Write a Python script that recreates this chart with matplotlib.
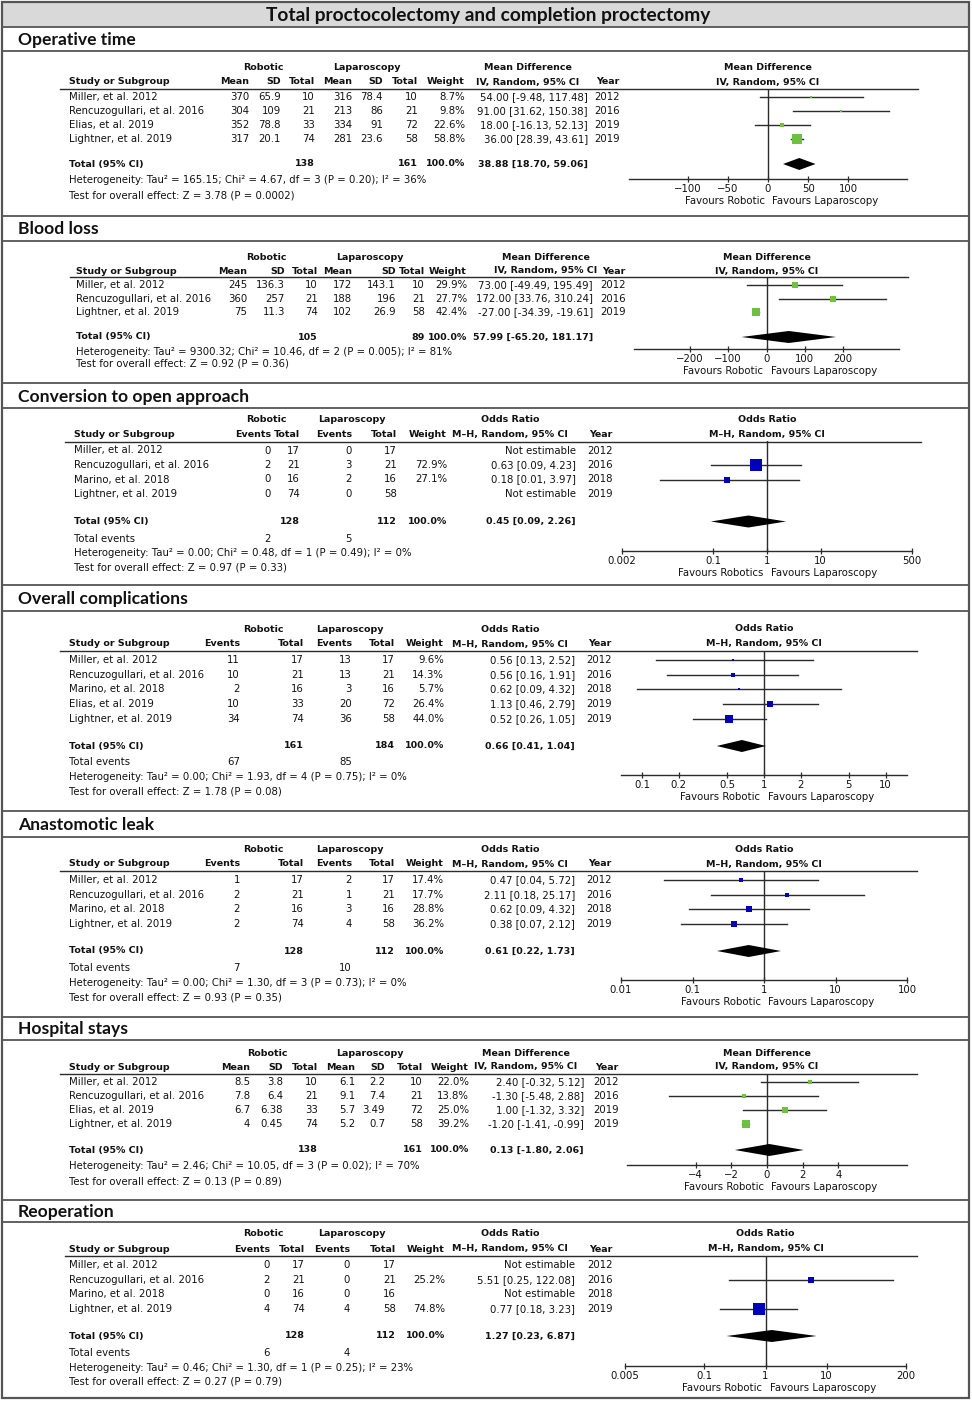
import matplotlib
matplotlib.use("Agg")
import matplotlib.pyplot as plt
from matplotlib.patches import Rectangle
from matplotlib.ticker import FixedLocator, FixedFormatter, NullLocator

# ---------------------------------------------------------------- data
TITLE = "Total proctocolectomy and completion proctectomy"

# Operative time (mean difference)
op_title = "Operative time"
op_studies = ["Miller, et al. 2012", "Rencuzogullari, et al. 2016", "Elias, et al. 2019", "Lightner, et al. 2019"]
op_rob_mean = [370, 304, 352, 317]
op_rob_sd = [65.9, 109, 78.8, 20.1]
op_rob_n = [10, 21, 33, 74]
op_lap_mean = [316, 213, 334, 281]
op_lap_sd = [78.4, 86, 91, 23.6]
op_lap_n = [10, 21, 72, 58]
op_weight = [8.7, 9.8, 22.6, 58.8]
op_est = [54.00, 91.00, 18.00, 36.00]
op_lo = [-9.48, 31.62, -16.13, 28.39]
op_hi = [117.48, 150.38, 52.13, 43.61]
op_year = [2012, 2016, 2019, 2019]
op_tot_n = [138, 161]
op_tot_est = [38.88, 18.70, 59.06]
op_het = "Heterogeneity: Tau² = 165.15; Chi² = 4.67, df = 3 (P = 0.20); I² = 36%"
op_test = "Test for overall effect: Z = 3.78 (P = 0.0002)"
op_ticks = [-100, -50, 0, 50, 100]
op_ticklabels = ["−100", "−50", "0", "50", "100"]
op_xlim = [-172.7, 172.7]

# Blood loss (mean difference)
bl_title = "Blood loss"
bl_studies = ["Miller, et al. 2012", "Rencuzogullari, et al. 2016", "Lightner, et al. 2019"]
bl_rob_mean = [245, 360, 75]
bl_rob_sd = [136.3, 257, 11.3]
bl_rob_n = [10, 21, 74]
bl_lap_mean = [172, 188, 102]
bl_lap_sd = [143.1, 196, 26.9]
bl_lap_n = [10, 21, 58]
bl_weight = [29.9, 27.7, 42.4]
bl_est = [73.00, 172.00, -27.00]
bl_lo = [-49.49, 33.76, -34.39]
bl_hi = [195.49, 310.24, -19.61]
bl_year = [2012, 2016, 2019]
bl_tot_n = [105, 89]
bl_tot_est = [57.99, -65.20, 181.17]
bl_het = "Heterogeneity: Tau² = 9300.32; Chi² = 10.46, df = 2 (P = 0.005); I² = 81%"
bl_test = "Test for overall effect: Z = 0.92 (P = 0.36)"
bl_ticks = [-200, -100, 0, 100, 200]
bl_ticklabels = ["−200", "−100", "0", "100", "200"]
bl_xlim = [-345, 345]

# Conversion to open approach (odds ratio)
cv_title = "Conversion to open approach"
cv_studies = ["Miller, et al. 2012", "Rencuzogullari, et al. 2016", "Marino, et al. 2018", "Lightner, et al. 2019"]
cv_rob_ev = [0, 2, 0, 0]
cv_rob_n = [17, 21, 16, 74]
cv_lap_ev = [0, 3, 2, 0]
cv_lap_n = [17, 21, 16, 58]
cv_weight = [None, 72.9, 27.1, None]
cv_est = [None, 0.63, 0.18, None]
cv_lo = [None, 0.09, 0.01, None]
cv_hi = [None, 4.23, 3.97, None]
cv_year = [2012, 2016, 2018, 2019]
cv_tot_n = [128, 112]
cv_tot_ev = [2, 5]
cv_tot_est = [0.45, 0.09, 2.26]
cv_het = "Heterogeneity: Tau² = 0.00; Chi² = 0.48, df = 1 (P = 0.49); I² = 0%"
cv_test = "Test for overall effect: Z = 0.97 (P = 0.33)"
cv_ticks = [0.002, 0.1, 1, 10, 500]
cv_ticklabels = ["0.002", "0.1", "1", "10", "500"]
cv_xlim = [0.002, 500]

# Overall complications (odds ratio)
oc_title = "Overall complications"
oc_studies = ["Miller, et al. 2012", "Rencuzogullari, et al. 2016", "Marino, et al. 2018", "Elias, et al. 2019", "Lightner, et al. 2019"]
oc_rob_ev = [11, 10, 2, 10, 34]
oc_rob_n = [17, 21, 16, 33, 74]
oc_lap_ev = [13, 13, 3, 20, 36]
oc_lap_n = [17, 21, 16, 72, 58]
oc_weight = [9.6, 14.3, 5.7, 26.4, 44.0]
oc_est = [0.56, 0.56, 0.62, 1.13, 0.52]
oc_lo = [0.13, 0.16, 0.09, 0.46, 0.26]
oc_hi = [2.52, 1.91, 4.32, 2.79, 1.05]
oc_year = [2012, 2016, 2018, 2019, 2019]
oc_tot_n = [161, 184]
oc_tot_ev = [67, 85]
oc_tot_est = [0.66, 0.41, 1.04]
oc_het = "Heterogeneity: Tau² = 0.00; Chi² = 1.93, df = 4 (P = 0.75); I² = 0%"
oc_test = "Test for overall effect: Z = 1.78 (P = 0.08)"
oc_ticks = [0.1, 0.2, 0.5, 1, 2, 5, 10]
oc_ticklabels = ["0.1", "0.2", "0.5", "1", "2", "5", "10"]
oc_xlim = [0.067, 15]

# Anastomotic leak (odds ratio)
al_title = "Anastomotic leak"
al_studies = ["Miller, et al. 2012", "Rencuzogullari, et al. 2016", "Marino, et al. 2018", "Lightner, et al. 2019"]
al_rob_ev = [1, 2, 2, 2]
al_rob_n = [17, 21, 16, 74]
al_lap_ev = [2, 1, 3, 4]
al_lap_n = [17, 21, 16, 58]
al_weight = [17.4, 17.7, 28.8, 36.2]
al_est = [0.47, 2.11, 0.62, 0.38]
al_lo = [0.04, 0.18, 0.09, 0.07]
al_hi = [5.72, 25.17, 4.32, 2.12]
al_year = [2012, 2016, 2018, 2019]
al_tot_n = [128, 112]
al_tot_ev = [7, 10]
al_tot_est = [0.61, 0.22, 1.73]
al_het = "Heterogeneity: Tau² = 0.00; Chi² = 1.30, df = 3 (P = 0.73); I² = 0%"
al_test = "Test for overall effect: Z = 0.93 (P = 0.35)"
al_ticks = [0.01, 0.1, 1, 10, 100]
al_ticklabels = ["0.01", "0.1", "1", "10", "100"]
al_xlim = [0.01, 100]

# Hospital stays (mean difference)
hs_title = "Hospital stays"
hs_studies = ["Miller, et al. 2012", "Rencuzogullari, et al. 2016", "Elias, et al. 2019", "Lightner, et al. 2019"]
hs_rob_mean = [8.5, 7.8, 6.7, 4]
hs_rob_sd = [3.8, 6.4, 6.38, 0.45]
hs_rob_n = [10, 21, 33, 74]
hs_lap_mean = [6.1, 9.1, 5.7, 5.2]
hs_lap_sd = [2.2, 7.4, 3.49, 0.7]
hs_lap_n = [10, 21, 72, 58]
hs_weight = [22.0, 13.8, 25.0, 39.2]
hs_est = [2.40, -1.30, 1.00, -1.20]
hs_lo = [-0.32, -5.48, -1.32, -1.41]
hs_hi = [5.12, 2.88, 3.32, -0.99]
hs_year = [2012, 2016, 2019, 2019]
hs_tot_n = [138, 161]
hs_tot_est = [0.13, -1.80, 2.06]
hs_het = "Heterogeneity: Tau² = 2.46; Chi² = 10.05, df = 3 (P = 0.02); I² = 70%"
hs_test = "Test for overall effect: Z = 0.13 (P = 0.89)"
hs_ticks = [-4, -2, 0, 2, 4]
hs_ticklabels = ["−4", "−2", "0", "2", "4"]
hs_xlim = [-7.84, 7.84]

# Reoperation (odds ratio)
ro_title = "Reoperation"
ro_studies = ["Miller, et al. 2012", "Rencuzogullari, et al. 2016", "Marino, et al. 2018", "Lightner, et al. 2019"]
ro_rob_ev = [0, 2, 0, 4]
ro_rob_n = [17, 21, 16, 74]
ro_lap_ev = [0, 0, 0, 4]
ro_lap_n = [17, 21, 16, 58]
ro_weight = [None, 25.2, None, 74.8]
ro_est = [None, 5.51, None, 0.77]
ro_lo = [None, 0.25, None, 0.18]
ro_hi = [None, 122.08, None, 3.23]
ro_year = [2012, 2016, 2018, 2019]
ro_tot_n = [128, 112]
ro_tot_ev = [6, 4]
ro_tot_est = [1.27, 0.23, 6.87]
ro_het = "Heterogeneity: Tau² = 0.46; Chi² = 1.30, df = 1 (P = 0.25); I² = 23%"
ro_test = "Test for overall effect: Z = 0.27 (P = 0.79)"
ro_ticks = [0.005, 0.1, 1, 10, 200]
ro_ticklabels = ["0.005", "0.1", "1", "10", "200"]
ro_xlim = [0.005, 200]

# ---------------------------------------------------------------- style
W, H = 972, 1401
TXT = "#111111"
LINE = "#2b2b2b"
BORDER = "#555555"
GREEN = "#6fc040"
BLUE = "#0000bb"
FS = 7.3
FSB = 6.8
FONT = "DejaVu Sans"
HFONT = "Lato"

fig = plt.figure(figsize=(W / 100, H / 100), dpi=100)
bg = fig.add_axes([0, 0, 1, 1])
bg.set_xlim(0, W)
bg.set_ylim(H, 0)
bg.axis("off")


def t(x, y, s, ha="left", bold=False, size=None):
    bg.text(x, y, s, ha=ha, va="center", color=TXT, family=FONT,
            fontweight="bold" if bold else "normal",
            fontsize=size if size else (FSB if bold else FS))


def fnum(v):
    return f"{v:g}"


def fci(m, lo, hi):
    return f"{m:.2f} [{lo:.2f}, {hi:.2f}]"


# frame, title bar and section separators
bg.add_patch(Rectangle((2, 2), 967, 25, fc="#d9d9d9", ec="none"))
bg.text(488, 15, TITLE, ha="center", va="center", family=HFONT,
        fontweight="bold", fontsize=13.8, color="#111111")
sep_lines = [27, 51, 216, 241, 383, 408, 585, 611, 811, 837, 1017, 1040, 1200, 1222]
for yy in sep_lines:
    bg.plot([2, 969], [yy, yy], color=BORDER, lw=1.3)
bg.add_patch(Rectangle((2, 2), 967, 1396, fill=False, ec=BORDER, lw=1.6))

# ---------------------------------------------------------------- panels
panels = [
    dict(kind="md", title=op_title, ty=40, studies=op_studies,
         c=[op_rob_mean, op_rob_sd, op_rob_n, op_lap_mean, op_lap_sd, op_lap_n],
         weight=op_weight, est=op_est, lo=op_lo, hi=op_hi, year=op_year,
         tot_n=op_tot_n, tot_ev=None, tot_est=op_tot_est, het=op_het, test=op_test,
         ticks=op_ticks, ticklabels=op_ticklabels, xlim=op_xlim, fav="Favours Robotic",
         xl=69, cols=[249, 281, 315, 352, 383, 418, 465, 588, 620], rob_c=263, lap_c=367, eff_c=528,
         line=(60, 918, 89), h1=68, h2=82, row0=97, dy=14, total=164, events=None, het_y=180, test_y=195,
         axx=(629, 907), axy=179),
    dict(kind="md", title=bl_title, ty=229, studies=bl_studies,
         c=[bl_rob_mean, bl_rob_sd, bl_rob_n, bl_lap_mean, bl_lap_sd, bl_lap_n],
         weight=bl_weight, est=bl_est, lo=bl_lo, hi=bl_hi, year=bl_year,
         tot_n=bl_tot_n, tot_ev=None, tot_est=bl_tot_est, het=bl_het, test=bl_test,
         ticks=bl_ticks, ticklabels=bl_ticklabels, xlim=bl_xlim, fav="Favours Robotic",
         xl=76, cols=[247, 285, 318, 352, 396, 425, 467, 593, 626], rob_c=266, lap_c=370, eff_c=546,
         line=(70, 908, 277), h1=257, h2=271, row0=285, dy=13.5, total=337, events=None, het_y=352, test_y=364,
         axx=(634, 899), axy=349),
    dict(kind="or", title=cv_title, ty=397, studies=cv_studies,
         c=[cv_rob_ev, cv_rob_n, cv_lap_ev, cv_lap_n],
         weight=cv_weight, est=cv_est, lo=cv_lo, hi=cv_hi, year=cv_year,
         tot_n=cv_tot_n, tot_ev=cv_tot_ev, tot_est=cv_tot_est, het=cv_het, test=cv_test,
         ticks=cv_ticks, ticklabels=cv_ticklabels, xlim=cv_xlim, fav="Favours Robotics",
         xl=74, cols=[271, 300, 352, 397, 447, 576, 613], rob_c=266, lap_c=352, eff_c=510,
         line=(65, 921, 441.5), h1=420, h2=434.5, row0=450.5, dy=14.5, total=521.5, events=538.5, het_y=553, test_y=567.5,
         axx=(622, 912), axy=551),
    dict(kind="or", title=oc_title, ty=599, studies=oc_studies,
         c=[oc_rob_ev, oc_rob_n, oc_lap_ev, oc_lap_n],
         weight=oc_weight, est=oc_est, lo=oc_lo, hi=oc_hi, year=oc_year,
         tot_n=oc_tot_n, tot_ev=oc_tot_ev, tot_est=oc_tot_est, het=oc_het, test=oc_test,
         ticks=oc_ticks, ticklabels=oc_ticklabels, xlim=oc_xlim, fav="Favours Robotic",
         xl=69, cols=[240, 304, 352, 395, 444, 575, 612], rob_c=263, lap_c=350, eff_c=510,
         line=(60, 917, 651), h1=629, h2=644, row0=660, dy=14.7, total=746, events=762, het_y=777, test_y=792,
         axx=(621, 907), axy=775),
    dict(kind="or", title=al_title, ty=825, studies=al_studies,
         c=[al_rob_ev, al_rob_n, al_lap_ev, al_lap_n],
         weight=al_weight, est=al_est, lo=al_lo, hi=al_hi, year=al_year,
         tot_n=al_tot_n, tot_ev=al_tot_ev, tot_est=al_tot_est, het=al_het, test=al_test,
         ticks=al_ticks, ticklabels=al_ticklabels, xlim=al_xlim, fav="Favours Robotic",
         xl=69, cols=[240, 304, 352, 395, 444, 575, 612], rob_c=263, lap_c=350, eff_c=510,
         line=(60, 917, 871), h1=849, h2=864, row0=880, dy=14.7, total=951, events=968, het_y=983, test_y=998,
         axx=(621, 907), axy=980),
    dict(kind="md", title=hs_title, ty=1029, studies=hs_studies,
         c=[hs_rob_mean, hs_rob_sd, hs_rob_n, hs_lap_mean, hs_lap_sd, hs_lap_n],
         weight=hs_weight, est=hs_est, lo=hs_lo, hi=hs_hi, year=hs_year,
         tot_n=hs_tot_n, tot_ev=None, tot_est=hs_tot_est, het=hs_het, test=hs_test,
         ticks=hs_ticks, ticklabels=hs_ticklabels, xlim=hs_xlim, fav="Favours Robotic",
         xl=69, cols=[250, 283, 318, 355, 385, 423, 469, 584, 619], rob_c=267, lap_c=370, eff_c=526,
         line=(60, 917, 1074), h1=1053, h2=1067, row0=1082, dy=14, total=1150, events=None, het_y=1166, test_y=1181,
         axx=(627, 907), axy=1165),
    dict(kind="or", title=ro_title, ty=1212, studies=ro_studies,
         c=[ro_rob_ev, ro_rob_n, ro_lap_ev, ro_lap_n],
         weight=ro_weight, est=ro_est, lo=ro_lo, hi=ro_hi, year=ro_year,
         tot_n=ro_tot_n, tot_ev=ro_tot_ev, tot_est=ro_tot_est, het=ro_het, test=ro_test,
         ticks=ro_ticks, ticklabels=ro_ticklabels, xlim=ro_xlim, fav="Favours Robotic",
         xl=69, cols=[270, 305, 350, 396, 445, 575, 613], rob_c=263, lap_c=352, eff_c=510,
         line=(65, 917, 1256), h1=1234, h2=1249, row0=1265, dy=14.7, total=1336, events=1353, het_y=1368, test_y=1382,
         axx=(625, 906), axy=1366),
]


def draw_panel(P):
    md = P["kind"] == "md"
    bg.text(18, P["ty"], P["title"], ha="left", va="center", family=HFONT,
            fontweight="bold", fontsize=12.6, color="#111111")
    cols = P["cols"]
    eff_name = "Mean Difference" if md else "Odds Ratio"
    method = "IV, Random, 95% CI" if md else "M–H, Random, 95% CI"
    # headers
    t(P["rob_c"], P["h1"], "Robotic", ha="center", bold=True)
    t(P["lap_c"], P["h1"], "Laparoscopy", ha="center", bold=True)
    t(P["eff_c"], P["h1"], eff_name, ha="center", bold=True)
    t(P["eff_c"], P["h2"], method, ha="center", bold=True)
    t(P["xl"], P["h2"], "Study or Subgroup", bold=True)
    heads = (["Mean", "SD", "Total", "Mean", "SD", "Total", "Weight", None, "Year"] if md
             else ["Events", "Total", "Events", "Total", "Weight", None, "Year"])
    for x, h in zip(cols, heads):
        if h:
            t(x, P["h2"], h, ha="right", bold=True)
    lx0, lx1, ly = P["line"]
    bg.plot([lx0, lx1], [ly, ly], color=LINE, lw=1.0)

    ncol = len(P["c"])
    n = len(P["studies"])
    rows_y = [P["row0"] + i * P["dy"] for i in range(n)]
    for i, y in enumerate(rows_y):
        t(P["xl"], y, P["studies"][i])
        for k in range(ncol):
            t(cols[k], y, fnum(P["c"][k][i]), ha="right")
        w = P["weight"][i]
        if w is not None:
            t(cols[ncol], y, f"{w:.1f}%", ha="right")
            t(cols[ncol + 1], y, fci(P["est"][i], P["lo"][i], P["hi"][i]), ha="right")
        else:
            t(cols[ncol + 1], y, "Not estimable", ha="right")
        t(cols[ncol + 2], y, str(P["year"][i]), ha="right")

    # totals
    t(P["xl"], P["total"], "Total (95% CI)", bold=True)
    tot_cols = [cols[2], cols[5]] if md else [cols[1], cols[3]]
    for x, v in zip(tot_cols, P["tot_n"]):
        t(x, P["total"], str(v), ha="right", bold=True)
    t(cols[ncol], P["total"], "100.0%", ha="right", bold=True)
    te = P["tot_est"]
    t(cols[ncol + 1], P["total"], fci(te[0], te[1], te[2]), ha="right", bold=True)
    if P["tot_ev"] is not None:
        t(P["xl"], P["events"], "Total events")
        for x, v in zip([cols[0], cols[2]], P["tot_ev"]):
            t(x, P["events"], str(v), ha="right")
    t(P["xl"], P["het_y"], P["het"])
    t(P["xl"], P["test_y"], P["test"])

    # forest plot
    x0, x1 = P["axx"]
    ay = P["axy"]
    ax = fig.add_axes([x0 / W, 1 - ay / H, (x1 - x0) / W, (ay - ly) / H])
    ax.patch.set_alpha(0)
    if not md:
        ax.set_xscale("log")
    ax.set_xlim(P["xlim"])
    ax.set_ylim(ay, ly)
    for s in ["top", "left", "right"]:
        ax.spines[s].set_visible(False)
    ax.spines["bottom"].set_color(LINE)
    ax.spines["bottom"].set_linewidth(1.0)
    ax.yaxis.set_major_locator(NullLocator())
    ax.xaxis.set_major_locator(FixedLocator(P["ticks"]))
    ax.xaxis.set_major_formatter(FixedFormatter(P["ticklabels"]))
    ax.xaxis.set_minor_locator(NullLocator())
    ax.tick_params(axis="x", direction="inout", length=5, width=0.9, color=LINE,
                   labelsize=FS, labelcolor=TXT, pad=1)
    for lab in ax.get_xticklabels():
        lab.set_family(FONT)
    ref = 0 if md else 1
    ax.axvline(ref, color=LINE, lw=1.0)
    col = GREEN if md else BLUE
    for i, y in enumerate(rows_y):
        if P["est"][i] is None:
            continue
        ax.plot([P["lo"][i], P["hi"][i]], [y, y], color=LINE, lw=1.0, clip_on=False)
        side_px = 1.5 + 0.15 * P["weight"][i]
        ax.plot([P["est"][i]], [y], marker="s", ms=side_px * 0.72, mfc=col, mec=col,
                mew=0, ls="none", clip_on=False, zorder=3)
    yt = P["total"]
    ax.fill([te[1], te[0], te[2], te[0]], [yt, yt - 6, yt, yt + 6], color="black", lw=0, zorder=3)
    # column titles above the forest plot
    off = (ly - P["h1"]) * 0.72
    ax.annotate(eff_name, xy=(ref, 1), xycoords=("data", "axes fraction"),
                xytext=(0, off), textcoords="offset points", ha="center", va="center",
                family=FONT, fontweight="bold", fontsize=FSB, color=TXT, annotation_clip=False)
    off2 = (ly - P["h2"]) * 0.72
    ax.annotate(method, xy=(ref, 1), xycoords=("data", "axes fraction"),
                xytext=(0, off2), textcoords="offset points", ha="center", va="center",
                family=FONT, fontweight="bold", fontsize=FSB, color=TXT, annotation_clip=False)
    # favours labels
    ax.annotate(P["fav"], xy=(ref, 0), xycoords=("data", "axes fraction"),
                xytext=(-2.5, -15.5), textcoords="offset points", ha="right", va="center",
                family=FONT, fontsize=FS, color=TXT, annotation_clip=False)
    ax.annotate("Favours Laparoscopy", xy=(ref, 0), xycoords=("data", "axes fraction"),
                xytext=(3, -15.5), textcoords="offset points", ha="left", va="center",
                family=FONT, fontsize=FS, color=TXT, annotation_clip=False)


for P in panels:
    draw_panel(P)

fig.savefig("out.png", dpi=100)
